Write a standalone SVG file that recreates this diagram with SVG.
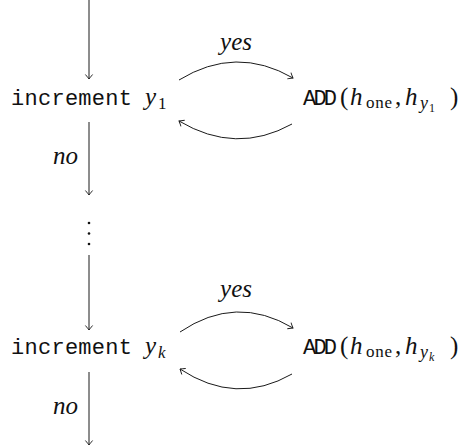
<svg xmlns="http://www.w3.org/2000/svg" width="463" height="447" viewBox="0 0 463 447">
<style>
.ln{fill:none;stroke:#1a1a1a;stroke-width:1;marker-end:url(#ah)}
.tt{font-family:"Liberation Mono","Courier New",monospace;font-size:22px;fill:#111}
.mi{font-family:"Liberation Serif","Times New Roman","DejaVu Serif",serif;font-style:italic;fill:#111}
.rm{font-family:"Liberation Serif","Times New Roman","DejaVu Serif",serif;fill:#111}
</style>
<defs>
<marker id="ah" viewBox="-6 -5 8 10" markerWidth="8" markerHeight="10" refX="0" refY="0" orient="auto" markerUnits="userSpaceOnUse">
<path d="M-4.5,-3.6 Q-1.2,-0.9 0,0 Q-1.2,0.9 -4.5,3.6" fill="none" stroke="#1a1a1a" stroke-width="0.9"/>
</marker>
</defs>
<rect width="463" height="447" fill="#fff"/>
<g id="connectors">
<path class="ln" d="M89,0 V79"/>
<path class="ln" d="M179,80 Q236,45 293,78"/>
<path class="ln" d="M292,124 Q236,155 179,121"/>
<path class="ln" d="M89,122 V195"/>
<path class="ln" d="M89,255 V330"/>
<path class="ln" d="M180,332 Q236,294 293,328"/>
<path class="ln" d="M292,374 Q236,406 180,369"/>
<path class="ln" d="M89,372 V445"/>
<text class="mi" x="236" y="50" font-size="25" text-anchor="middle">yes</text>
<text class="mi" x="236" y="297" font-size="25" text-anchor="middle">yes</text>
<text class="mi" x="53" y="164" font-size="25">no</text>
<text class="mi" x="53" y="414" font-size="25">no</text>
</g>
<g id="inc1">
<text class="tt" x="11" y="105" textLength="121">increment</text>
<text class="mi" x="145" y="105" font-size="25">y</text>
<text class="rm" x="158" y="109" font-size="17">1</text>
</g>
<g id="add1">
<text class="tt" x="303" y="105" textLength="34">ADD</text>
<text class="rm" x="340" y="105" font-size="25">(</text>
<text class="mi" x="350" y="105" font-size="25">h</text>
<text class="rm" x="366" y="108" font-size="17" textLength="26">one</text>
<text class="rm" x="395" y="105" font-size="25">,</text>
<text class="mi" x="405" y="105" font-size="25">h</text>
<text class="mi" x="420" y="109" font-size="18">y</text>
<text class="rm" x="429" y="112" font-size="12">1</text>
<text class="rm" x="450" y="105" font-size="25">)</text>
</g>
<g id="dots">
<circle cx="89" cy="223" r="1.3" fill="#111"/>
<circle cx="89" cy="233.5" r="1.3" fill="#111"/>
<circle cx="89" cy="244" r="1.3" fill="#111"/>
</g>
<g id="inck">
<text class="tt" x="11" y="354" textLength="121">increment</text>
<text class="mi" x="145" y="354" font-size="25">y</text>
<text class="mi" x="158" y="358" font-size="17">k</text>
</g>
<g id="addk">
<text class="tt" x="303" y="354" textLength="34">ADD</text>
<text class="rm" x="340" y="354" font-size="25">(</text>
<text class="mi" x="350" y="354" font-size="25">h</text>
<text class="rm" x="366" y="357" font-size="17" textLength="26">one</text>
<text class="rm" x="395" y="354" font-size="25">,</text>
<text class="mi" x="405" y="354" font-size="25">h</text>
<text class="mi" x="420" y="358" font-size="18">y</text>
<text class="mi" x="429" y="361" font-size="12">k</text>
<text class="rm" x="450" y="354" font-size="25">)</text>
</g>
</svg>
